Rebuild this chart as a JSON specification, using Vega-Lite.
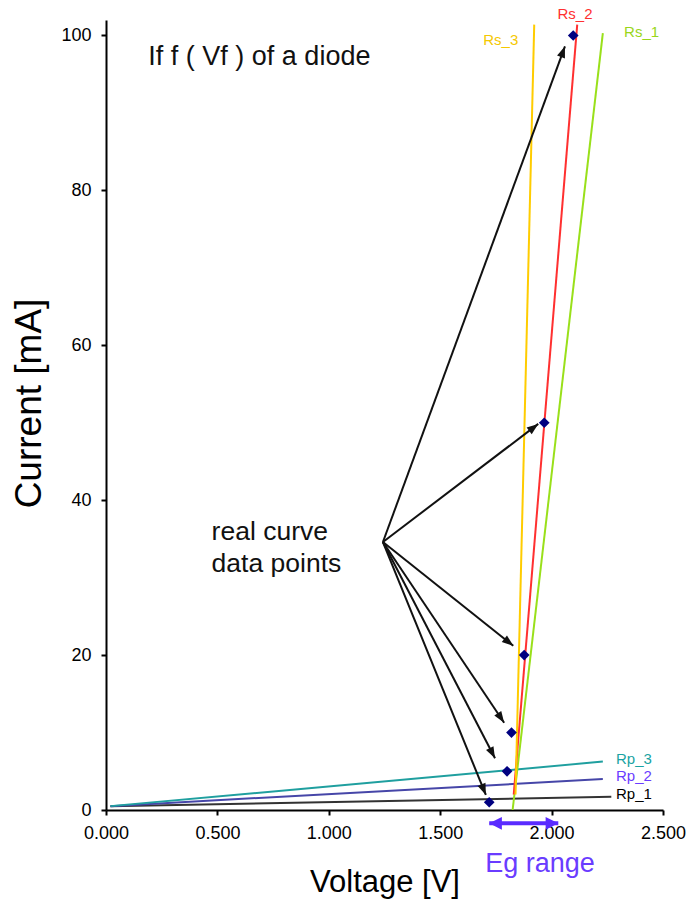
{
  "$schema": "https://vega.github.io/schema/vega-lite/v6.json",
  "width": 557,
  "height": 790,
  "autosize": {"type": "none"},
  "padding": {"left": 106, "right": 26, "top": 20, "bottom": 98},
  "background": "white",
  "config": {
    "view": {"stroke": null},
    "font": "Liberation Sans",
    "axis": {
      "domainColor": "black", "domainWidth": 2, "tickColor": "black", "tickWidth": 2, "tickSize": 5,
      "grid": false, "labelFont": "Liberation Sans", "labelFontSize": 18, "labelColor": "black", "labelFlush": false,
      "titleFont": "Liberation Sans", "titleFontWeight": "normal", "titleColor": "black"
    }
  },
  "datasets": {
    "lines": [
      {"series": "Rp_1", "x": 0.02, "y": 0.5}, {"series": "Rp_1", "x": 2.268, "y": 1.7},
      {"series": "Rp_2", "x": 0.02, "y": 0.5}, {"series": "Rp_2", "x": 2.23, "y": 4.0},
      {"series": "Rp_3", "x": 0.02, "y": 0.5}, {"series": "Rp_3", "x": 2.23, "y": 6.25},
      {"series": "Rs_1", "x": 1.825, "y": 0}, {"series": "Rs_1", "x": 2.23, "y": 100.3},
      {"series": "Rs_2", "x": 1.83, "y": 2}, {"series": "Rs_2", "x": 2.115, "y": 101.4},
      {"series": "Rs_3", "x": 1.838, "y": 2}, {"series": "Rs_3", "x": 1.922, "y": 101.4}
    ],
    "points": [
      {"x": 1.72, "y": 1}, {"x": 1.80, "y": 5}, {"x": 1.82, "y": 10},
      {"x": 1.877, "y": 20}, {"x": 1.967, "y": 50}, {"x": 2.097, "y": 100}
    ],
    "arrows": [
      {"x": 1.243, "y": 34.6, "tx": 2.06, "ty": 98.6, "angle": 20.2},
      {"x": 1.243, "y": 34.6, "tx": 1.94, "ty": 49.85, "angle": 52.8},
      {"x": 1.243, "y": 34.6, "tx": 1.828, "ty": 21.2, "angle": 128.6},
      {"x": 1.243, "y": 34.6, "tx": 1.787, "ty": 11.27, "angle": 146.1},
      {"x": 1.243, "y": 34.6, "tx": 1.746, "ty": 6.68, "angle": 152.6},
      {"x": 1.243, "y": 34.6, "tx": 1.705, "ty": 1.94, "angle": 157.85}
    ],
    "eg": [{"x": 1.72, "tx": 2.03, "y": -1.72}],
    "egheads": [{"x": 1.72, "y": -1.72, "angle": 270}, {"x": 2.03, "y": -1.72, "angle": 90}],
    "serieslabels": [
      {"series": "Rs_3", "x": 1.772, "y": 99.4},
      {"series": "Rs_2", "x": 2.105, "y": 102.8},
      {"series": "Rs_1", "x": 2.404, "y": 100.5}
    ],
    "rplabels": [
      {"series": "Rp_3", "x": 2.289, "y": 6.59},
      {"series": "Rp_2", "x": 2.289, "y": 4.43},
      {"series": "Rp_1", "x": 2.289, "y": 2.07}
    ],
    "title": [{"text": "If f ( Vf ) of a diode", "x": 0.19, "y": 97.2}],
    "note": [{"text": "real curve", "x": 0.474, "y": 34.87}, {"text": "data points", "x": 0.474, "y": 30.78}],
    "egtext": [{"text": "Eg range", "x": 1.948, "y": -6.97}]
  },
  "encoding": {
    "x": {"field": "x", "type": "quantitative", "title": "Voltage [V]",
      "scale": {"domain": [0, 2.5], "nice": false, "zero": false},
      "axis": {"values": [0, 0.5, 1, 1.5, 2, 2.5], "format": ".3f", "labelPadding": 9, "titlePadding": 25, "titleFontSize": 31}},
    "y": {"field": "y", "type": "quantitative", "title": "Current [mA]",
      "scale": {"domain": [0, 102], "nice": false, "zero": false},
      "axis": {"values": [0, 20, 40, 60, 80, 100], "format": "d", "labelPadding": 10, "titlePadding": 12, "titleFontSize": 37, "titleY": 383}}
  },
  "resolve": {"scale": {"color": "independent"}},
  "layer": [
    {
      "data": {"name": "lines"},
      "mark": {"type": "line", "strokeWidth": 2, "clip": false},
      "encoding": {
        "color": {"field": "series", "type": "nominal", "legend": null,
          "scale": {"domain": ["Rp_1", "Rp_2", "Rp_3", "Rs_1", "Rs_2", "Rs_3"],
            "range": ["#333333", "#4646a8", "#1f9f9f", "#99e01a", "#ff3030", "#ffcc00"]}},
        "detail": {"field": "series"}
      }
    },
    {
      "data": {"name": "arrows"},
      "mark": {"type": "rule", "strokeWidth": 2, "color": "#111111"},
      "encoding": {
        "x2": {"field": "tx"},
        "y2": {"field": "ty"}
      }
    },
    {
      "data": {"name": "arrows"},
      "mark": {"type": "point", "shape": "M0,0L-0.7,1.9L0.7,1.9Z", "filled": true, "size": 144, "color": "#111111", "opacity": 1},
      "encoding": {
        "x": {"field": "tx", "type": "quantitative", "title": "Voltage [V]"},
        "y": {"field": "ty", "type": "quantitative", "title": "Current [mA]"},
        "angle": {"field": "angle", "type": "quantitative", "scale": null}
      }
    },
    {
      "data": {"name": "points"},
      "mark": {"type": "point", "shape": "diamond", "filled": true, "size": 115, "color": "#000080", "opacity": 1}
    },
    {
      "data": {"name": "eg"},
      "mark": {"type": "rule", "strokeWidth": 4, "color": "#5a2bff"},
      "encoding": {"x2": {"field": "tx"}}
    },
    {
      "data": {"name": "egheads"},
      "mark": {"type": "point", "shape": "M0,0L-1,2L1,2Z", "filled": true, "size": 160, "color": "#5a2bff", "opacity": 1},
      "encoding": {"angle": {"field": "angle", "type": "quantitative", "scale": null}}
    },
    {
      "data": {"name": "serieslabels"},
      "mark": {"type": "text", "fontSize": 15, "align": "center", "baseline": "middle", "font": "Liberation Sans"},
      "encoding": {
        "text": {"field": "series"},
        "color": {"field": "series", "type": "nominal", "legend": null,
          "scale": {"domain": ["Rs_1", "Rs_2", "Rs_3"], "range": ["#99d61a", "#ff3030", "#f5c800"]}}
      }
    },
    {
      "data": {"name": "rplabels"},
      "mark": {"type": "text", "fontSize": 15, "align": "left", "baseline": "middle", "font": "Liberation Sans"},
      "encoding": {
        "text": {"field": "series"},
        "color": {"field": "series", "type": "nominal", "legend": null,
          "scale": {"domain": ["Rp_1", "Rp_2", "Rp_3"], "range": ["#000000", "#6a3cff", "#1aa3a3"]}}
      }
    },
    {
      "data": {"name": "title"},
      "mark": {"type": "text", "fontSize": 27, "align": "left", "baseline": "middle", "color": "#111111", "font": "Liberation Sans"},
      "encoding": {"text": {"field": "text"}}
    },
    {
      "data": {"name": "note"},
      "mark": {"type": "text", "fontSize": 26.5, "align": "left", "baseline": "alphabetic", "color": "#111111", "font": "Liberation Sans"},
      "encoding": {"text": {"field": "text"}}
    },
    {
      "data": {"name": "egtext"},
      "mark": {"type": "text", "fontSize": 27, "align": "center", "baseline": "middle", "color": "#6a3cff", "font": "Liberation Sans"},
      "encoding": {"text": {"field": "text"}}
    }
  ]
}
